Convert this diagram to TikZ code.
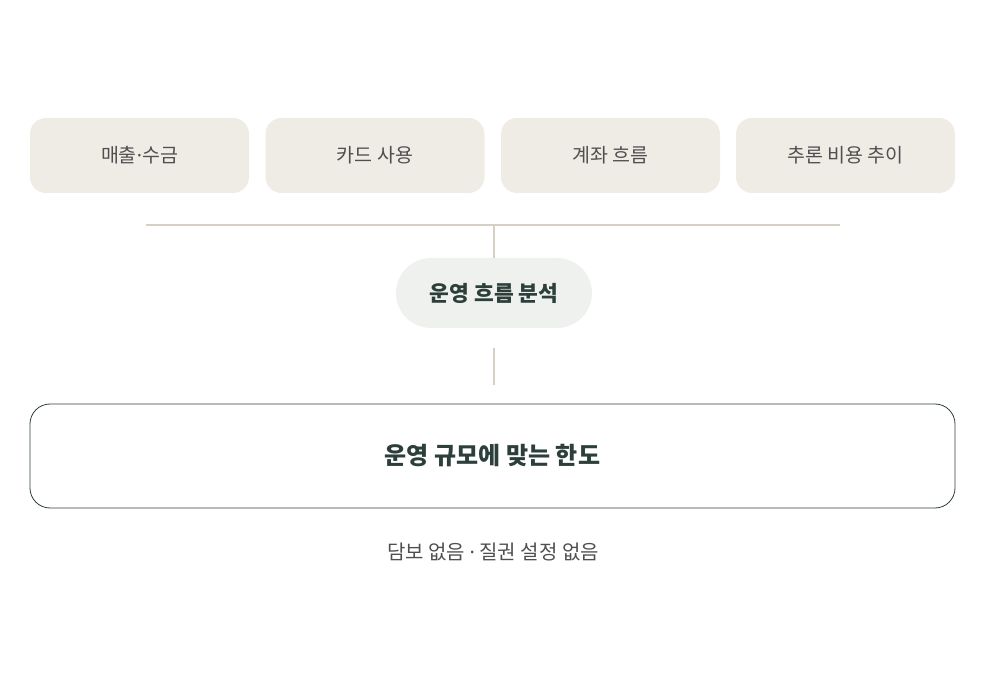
\documentclass[tikz,border=0pt]{standalone}
\usepackage{fontspec}
\usepackage{xcolor}
\usepackage{tikz}
\usetikzlibrary{calc}
\usetikzlibrary{positioning}
\setmainfont{Noto Sans CJK KR}
\newfontfamily\latinfont{Noto Sans}
\newcommand{\middot}{{\latinfont ·}}
\definecolor{sandfill}{HTML}{EFECE6}
\definecolor{sandline}{HTML}{D6CFC4}
\definecolor{sagefill}{HTML}{EFF1EE}
\definecolor{pinegreen}{HTML}{2C3F3A}
\definecolor{labelgray}{HTML}{4F4F4F}

\begin{document}
\begin{tikzpicture}[x=1pt,y=-1pt,
    source/.style={fill=sandfill,rounded corners=16pt,minimum width=219pt,
        minimum height=75pt,text=labelgray,font={\fontsize{19.5}{22}\selectfont}},
    hub/.style={fill=sagefill,rounded corners=35pt,minimum width=196pt,
        minimum height=70pt,text=pinegreen,font={\fontsize{21.5}{24}\selectfont\bfseries}},
    result/.style={draw=pinegreen,line width=0.8pt,rounded corners=20pt,
        minimum width=925pt,minimum height=104pt,text=pinegreen,
        font={\fontsize{24}{28}\selectfont\bfseries}},
    note/.style={text=labelgray,font={\fontsize{20}{24}\selectfont}},
    link/.style={draw=sandline,line width=1.5pt},
    ]
    \useasboundingbox (0,0) rectangle (999,684);
    % data sources
    \node[source] (sales) at (139.5,155.5) {매출\middot 수금};
    \node[source] (card) at (375,155.5) {카드 사용};
    \node[source] (account) at (610.5,155.5) {계좌 흐름};
    \node[source] (cost) at (845.5,155.5) {추론 비용 추이};
    % analysis
    \node[hub] (flow) at (494,293) {운영 흐름 분석};
    \node[result] (limit) at (492.5,456) {운영 규모에 맞는 한도};
    \node[note] (terms) at (493,552) {담보 없음 \middot{} 질권 설정 없음};
    % connectors
    \coordinate (busL) at (146,225);
    \coordinate (busR) at (840,225);
    \draw[link] (busL) -- (busR);
    \draw[link] (flow.north |- busL) -- (flow.north);
    \draw[link,shorten <=20pt,shorten >=19pt] (flow.south) -- (flow.south |- limit.north);
\end{tikzpicture}
\end{document}
